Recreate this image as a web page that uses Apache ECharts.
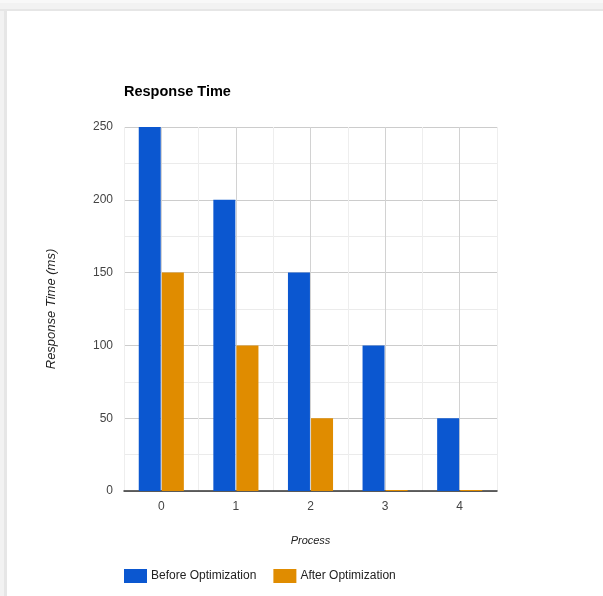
<!DOCTYPE html>
<html>
<head>
<meta charset="utf-8">
<script src="https://cdn.jsdelivr.net/npm/echarts@6/dist/echarts.min.js"></script>
<style>
  html, body { margin: 0; padding: 0; background: #ffffff; }
  #chart { width: 603px; height: 596px; }
</style>
</head>
<body>
<div id="chart"></div>
<script>
// Response time per process, before and after optimization (ms)
const processes = ['0', '1', '2', '3', '4'];
const beforeOptimization = [250, 200, 150, 100, 50];
const afterOptimization = [150, 100, 50, 0, 0];
const yTicks = [0, 50, 100, 150, 200, 250];

const FONT = "'Liberation Sans', Arial, sans-serif";
const BLUE = '#0b57d0';
const ORANGE = '#e08c00';

const chart = echarts.init(document.getElementById('chart'), null, { renderer: 'canvas' });

chart.setOption({
  animation: false,
  backgroundColor: '#ffffff',
  textStyle: { fontFamily: FONT },
  title: {
    text: 'Response Time',
    left: 119,
    top: 79,
    textStyle: { fontFamily: FONT, fontSize: 14.5, fontWeight: 'bold', color: '#000000' }
  },
  legend: {
    left: 119,
    top: 564,
    itemWidth: 23,
    itemHeight: 14,
    itemGap: 17,
    icon: 'rect',
    textStyle: { fontFamily: FONT, fontSize: 12, color: '#222222', padding: [0, 0, 0, -1] },
    data: ['Before Optimization', 'After Optimization']
  },
  grid: { left: 124, right: 106, top: 127, bottom: 105, containLabel: false },
  xAxis: [
    {
      type: 'category',
      data: processes,
      axisLine: { show: true, lineStyle: { color: '#333333', width: 1.5 } },
      axisTick: { show: false },
      axisLabel: { margin: 10, fontFamily: FONT, fontSize: 12, color: '#444444' },
      splitLine: { show: false },
      name: 'Process',
      nameLocation: 'middle',
      nameGap: 44,
      nameTextStyle: { fontFamily: FONT, fontSize: 11, fontStyle: 'italic', color: '#222222' }
    },
    {
      // helper axis that draws the vertical grid: darker at category centres, lighter at band edges
      type: 'value',
      min: -0.5,
      max: 4.5,
      interval: 0.5,
      position: 'bottom',
      show: true,
      axisLine: { show: false },
      axisTick: { show: false },
      axisLabel: { show: false },
      splitLine: { show: true, lineStyle: { color: ['#eeeeee', '#d2d2d2'], width: 1 } }
    }
  ],
  yAxis: {
    type: 'value',
    min: yTicks[0],
    max: yTicks[yTicks.length - 1],
    interval: 50,
    axisLine: { show: false },
    axisTick: { show: false },
    axisLabel: { margin: 11, fontFamily: FONT, fontSize: 12, color: '#444444' },
    splitLine: { show: true, lineStyle: { color: '#cccccc', width: 1 } },
    minorTick: { show: false, splitNumber: 2 },
    minorSplitLine: { show: true, lineStyle: { color: '#ebebeb', width: 1 } },
    name: 'Response Time (ms)',
    nameLocation: 'middle',
    nameGap: 66,
    nameTextStyle: { fontFamily: FONT, fontSize: 13, fontStyle: 'italic', color: '#222222' }
  },
  series: [
    {
      name: 'Before Optimization',
      type: 'bar',
      xAxisIndex: 0,
      data: beforeOptimization,
      barWidth: 22,
      barGap: '5%',
      itemStyle: { color: BLUE },
      z: 3
    },
    {
      name: 'After Optimization',
      type: 'bar',
      xAxisIndex: 0,
      data: afterOptimization,
      barWidth: 22,
      barGap: '5%',
      barMinHeight: 1,
      itemStyle: { color: ORANGE },
      z: 3
    }
  ],
  graphic: [
    // page frame: grey strip along the top and the left edge
    { type: 'rect', left: 0, top: 0, shape: { width: 603, height: 3 }, style: { fill: '#f8f8f8' }, silent: true },
    { type: 'rect', left: 0, top: 3, shape: { width: 603, height: 6 }, style: { fill: '#f2f2f2' }, silent: true },
    { type: 'rect', left: 0, top: 9, shape: { width: 603, height: 2 }, style: { fill: '#e6e6e6' }, silent: true },
    { type: 'rect', left: 0, top: 11, shape: { width: 4, height: 585 }, style: { fill: '#f2f2f2' }, silent: true },
    { type: 'rect', left: 4, top: 11, shape: { width: 3, height: 585 }, style: { fill: '#e6e6e6' }, silent: true }
  ]
});
</script>
</body>
</html>
